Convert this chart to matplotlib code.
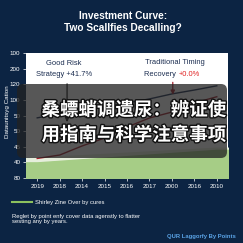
import matplotlib
matplotlib.use("Agg")
import matplotlib.pyplot as plt
import matplotlib.patheffects as pe
from matplotlib.patches import FancyBboxPatch
import numpy as np

# ---- data ----
x_labels = ["2019", "2018", "2014", "2015", "2016", "2017", "2000", "2016", "2010"]
y_labels = ["80", "40", "45", "50", "50", "100", "120", "200", "100"]
navy_series = [3.85, 4.1, 4.35, 4.55, 4.8, 5.06, 5.38, 5.63, 5.9]
red_series = [1.25, 1.47, 2.05, 2.56, 3.26, 3.84, 4.22, 4.8, 5.2]
green_top = [1.0, 1.1, 1.2, 1.3, 1.4, 1.5, 1.6, 1.7, 1.8]
pale_top = [1.3, 1.38, 1.46, 1.54, 1.62, 1.7, 1.78, 1.86, 1.94]

title = "Investment Curve:\nTwo Scallfies Decalling?"
overlay_lines = ["桑螵蛸调遗尿：辨证使", "用指南与科学注意事项"]
legend_label = "Shirley Zine Over by cures"
footnote = "Reglet by point enfy cover data agenstly to flatter\nsesting any by years."
credit = "QUR Laggorfy By Points"
ylabel = "Dataunitsyg Cation"

BG = "#0c2443"
W = H = 243

fig = plt.figure(figsize=(2.43, 2.43), dpi=100, facecolor=BG)

def fx(px):
    return px / W

def fy(py):
    return 1 - py / H

ax = fig.add_axes([fx(26), fy(178), (228 - 26) / W, (178 - 53) / H])
ax.set_facecolor("white")
xs = np.arange(len(x_labels))
xfill = np.concatenate([[-0.5], xs, [8.5]])
gt = np.concatenate([[green_top[0]], green_top, [green_top[-1]]])
pt = np.concatenate([[pale_top[0]], pale_top, [pale_top[-1]]])
ax.fill_between(xfill, 0, pt, color="#e6eedc", zorder=1)
ax.fill_between(xfill, 0, gt, color="#a6cd86", zorder=2)
ax.plot(xs, navy_series, color="#1b2d50", lw=1.0, zorder=3)
ax.plot(xs, red_series, color="#a3202c", lw=1.0, zorder=3)

ax.annotate("", xy=(1.33, 3.4), xytext=(1.33, 6.2),
            arrowprops=dict(arrowstyle="-|>", color="#111111", lw=0.9, mutation_scale=6), zorder=4)
ax.annotate("", xy=(6.04, 5.15), xytext=(6.04, 6.3),
            arrowprops=dict(arrowstyle="-|>", color="#a3202c", lw=0.9, mutation_scale=6), zorder=4)

ax.text(1.2, 7.35, "Good Risk", ha="center", va="center", fontsize=5.4,
        color="#1b2d50", family="Liberation Sans")
ax.text(1.2, 6.62, "Strategy +41.7%", ha="center", va="center", fontsize=5.4,
        color="#1b2d50", family="Liberation Sans")
ax.text(6.15, 7.4, "Traditional Timing", ha="center", va="center", fontsize=5.4,
        color="#1b2d50", family="Liberation Sans")
ax.text(6.28, 6.62, "Recovery ", ha="right", va="center", fontsize=5.4,
        color="#1b2d50", family="Liberation Sans")
ax.text(6.28, 6.62, "+0.0%", ha="left", va="center", fontsize=5.4,
        color="#e02020", family="Liberation Sans")

ax.set_xlim(-0.5, 8.5)
ax.set_ylim(0, 8)
ax.set_xticks(xs)
ax.set_xticklabels(x_labels)
ax.set_yticks(np.arange(len(y_labels)))
ax.set_yticklabels(y_labels)
ax.tick_params(colors="white", labelsize=4.5, length=2, width=0.5, pad=2)
for lab in ax.get_xticklabels() + ax.get_yticklabels():
    lab.set_family("Liberation Sans")
for s in ax.spines.values():
    s.set_visible(False)

fig.text(fx(7), fy(112), ylabel, rotation=90, ha="center", va="center",
         fontsize=4.5, color="white", family="Liberation Sans")

fig.text(fx(123), fy(22), title, ha="center", va="center", fontsize=7.3,
         fontweight="bold", color="white", family="Liberation Sans", linespacing=1.15)

# legend
fig.add_artist(plt.Line2D([fx(12), fx(32)], [fy(202), fy(202)], color="#8cc15e", lw=1.5,
                          transform=fig.transFigure))
fig.text(fx(35), fy(202), legend_label, ha="left", va="center", fontsize=4.2,
         color="white", family="Liberation Sans")
fig.text(fx(12), fy(219), footnote, ha="left", va="center", fontsize=4.2,
         color="white", family="Liberation Sans", linespacing=0.95)
fig.text(fx(236), fy(236), credit, ha="right", va="center", fontsize=4.2,
         color="#5aa3e6", fontweight="bold", family="Liberation Sans")

# overlay
box = FancyBboxPatch((fx(17), fy(158)), fx(227) - fx(17), fy(84) - fy(158),
                     boxstyle="round,pad=0,rounding_size=0.025",
                     transform=fig.transFigure, facecolor="#222222", alpha=0.76,
                     edgecolor="none", zorder=10)
fig.add_artist(box)
for i, line in enumerate(overlay_lines):
    fig.text(fx(134), fy(110 + 25 * i), line, ha="center", va="center", fontsize=13.3,
             fontweight="bold", color="white", family=["Noto Sans CJK SC", "DejaVu Sans"],
             zorder=11,
             path_effects=[pe.withStroke(linewidth=2.0, foreground="#111111")])

fig.savefig("out.png", dpi=100, facecolor=BG)
